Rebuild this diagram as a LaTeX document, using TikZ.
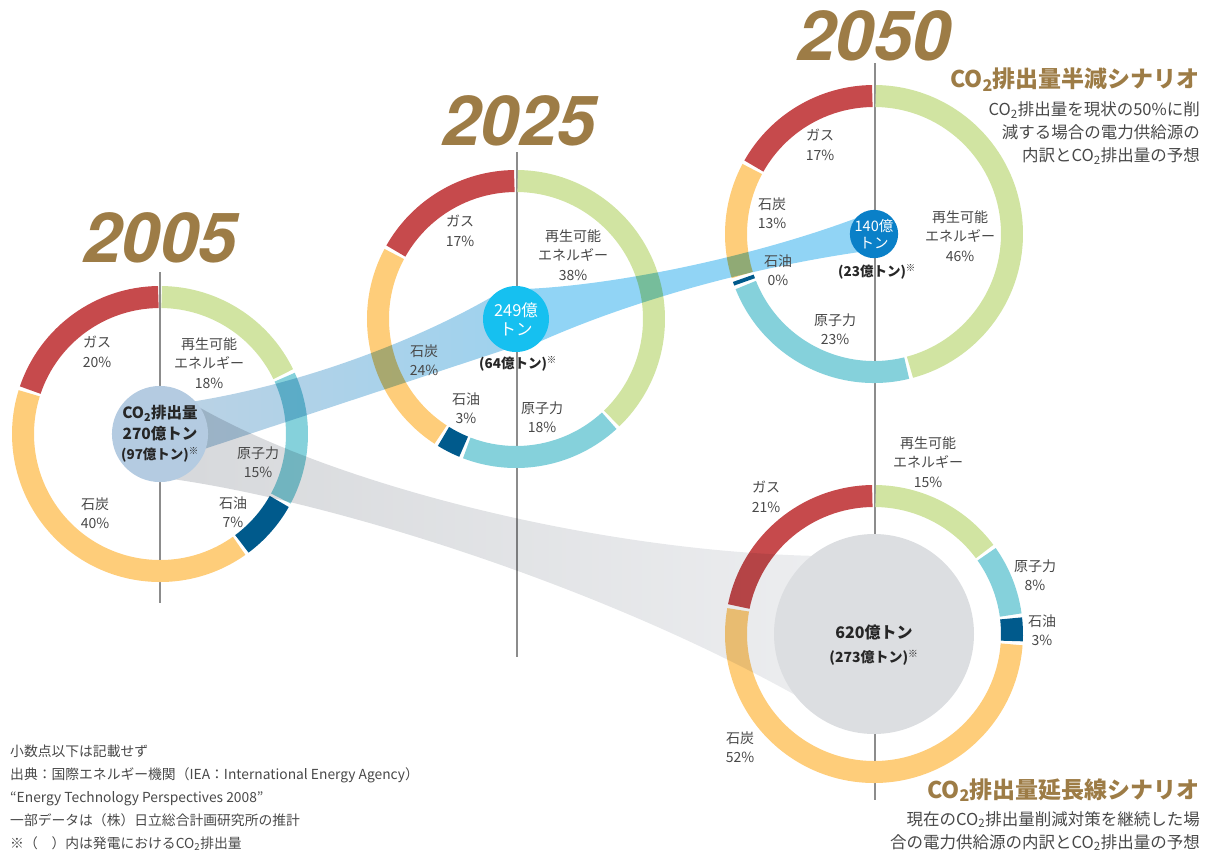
\documentclass[tikz,border=0pt]{standalone}
\usepackage{fontspec}
\setmainfont{Noto Sans CJK JP}
\newfontfamily\yearfont{TeX Gyre Heros}
\usetikzlibrary{calc}

\definecolor{gasred}{RGB}{198,74,76}
\definecolor{renewgreen}{RGB}{209,228,162}
\definecolor{nuclearcyan}{RGB}{133,209,219}
\definecolor{oilblue}{RGB}{0,90,140}
\definecolor{coalyellow}{RGB}{254,205,122}
\definecolor{gold}{RGB}{157,124,70}
\definecolor{labelgray}{RGB}{72,72,72}
\definecolor{linegray}{RGB}{140,140,140}
\definecolor{steel}{RGB}{180,203,225}
\definecolor{sky}{RGB}{22,192,240}
\definecolor{ocean}{RGB}{10,128,200}
\definecolor{mist}{RGB}{220,222,225}
\definecolor{bandblue}{RGB}{145,212,245}
\definecolor{bandsteel}{RGB}{188,210,228}
\definecolor{bandsky}{RGB}{158,210,238}
\definecolor{bandgray}{RGB}{214,216,219}
\definecolor{bandlight}{RGB}{238,239,241}

\newcommand{\cotwo}{CO\textsubscript{2}}

\begin{document}
\begin{tikzpicture}[
    x=1pt, y=1pt,
    year/.style={font=\yearfont\fontsize{69}{69}\selectfont\bfseries\itshape,
        text=gold, anchor=base, inner sep=0},
    yearline/.style={linegray, line width=1.1pt},
    ring/.style={line width=22pt},
    lbl/.style={font=\fontsize{14}{19.5}\selectfont, text=labelgray,
        align=center, inner sep=0},
    total/.style={font=\fontsize{13.5}{16}\selectfont\bfseries, text=black!85,
        align=center, inner sep=0},
    bubble/.style={circle, inner sep=0, align=center},
    scenario/.style={font=\fontsize{23}{26}\selectfont\bfseries, text=gold,
        anchor=east, inner sep=0},
    note/.style={font=\fontsize{16.5}{23}\selectfont, text=labelgray,
        align=right, anchor=east, inner sep=0}
    ]
    \useasboundingbox (0,0) rectangle (1210,-855);
    % centres
    \coordinate (c05) at (160,-434);
    \coordinate (c25) at (516,-319);
    \coordinate (c50) at (874,-234);
    \coordinate (c50b) at (874,-634);
    % years
    \draw[yearline] (160,-272) -- (160,-603);
    \draw[yearline] (517,-152) -- (517,-657);
    \draw[yearline] (875,-63) -- (875,-800);
    \node[year] (y05) at (160,-262) {2005};
    \node[year] (y25) at (519,-145) {2025};
    \node[year] (y50) at (874,-60) {2050};
    % rings
    \foreach \a/\b/\c in {90/25.2/renewgreen, 25.2/-28.8/nuclearcyan,
        -28.8/-54/oilblue, -54/-198/coalyellow, -198/-270/gasred}
        \draw[ring, \c, shift={(c05)}] (\a-0.7:137)
            arc[start angle=\a-0.7, end angle=\b+0.7, radius=137];
    \foreach \a/\b/\c in {90/-46.8/renewgreen, -46.8/-111.6/nuclearcyan,
        -111.6/-122.4/oilblue, -122.4/-208.8/coalyellow, -208.8/-270/gasred}
        \draw[ring, \c, shift={(c25)}] (\a-0.7:138)
            arc[start angle=\a-0.7, end angle=\b+0.7, radius=138];
    \foreach \a/\b/\c in {90/-75.6/renewgreen, -75.6/-159/nuclearcyan,
        -159/-162/oilblue, -162/-208.8/coalyellow, -208.8/-270/gasred}
        \draw[ring, \c, shift={(c50)}] (\a-0.7:138)
            arc[start angle=\a-0.7, end angle=\b+0.7, radius=138];
    \foreach \a/\b/\c in {90/36/renewgreen, 36/7.2/nuclearcyan,
        7.2/-3.6/oilblue, -3.6/-190.8/coalyellow, -190.8/-270/gasred}
        \draw[ring, \c, shift={(c50b)}] (\a-0.7:138)
            arc[start angle=\a-0.7, end angle=\b+0.7, radius=138];
    % bands
    \begin{scope}[blend mode=multiply]
    \shade[left color=bandgray, right color=bandlight] (c05) -- (190,-402)
        .. controls (330,-485) and (600,-552) .. (820,-556) -- (c50b)
        -- (830,-715) .. controls (620,-590) and (330,-500) .. (165,-478)
        -- cycle;
    \shade[left color=bandsteel, right color=bandsky] (c05) -- (190,-402)
        .. controls (300,-385) and (420,-340) .. (500,-292) -- (c25)
        -- (516,-346) -- (195,-452) -- cycle;
    \fill[bandblue] (c25) -- (525,-289)
        .. controls (620,-285) and (760,-255) .. (862,-216) -- (c50)
        -- (874,-250) .. controls (760,-265) and (630,-300) .. (530,-346)
        -- cycle;
    \end{scope}
    % totals
    \node[bubble, fill=steel, minimum size=88pt, total,
        font=\fontsize{15.5}{20.5}\selectfont\bfseries] (co05) at (c05)
        {\cotwo 排出量\\270億トン\\{\fontsize{13.5}{16}\selectfont(97億トン)\textsuperscript{※}}};
    \node[bubble, fill=sky, minimum size=66pt, text=white,
        font=\fontsize{16.5}{19}\selectfont] (co25) at (c25) {249億\\トン};
    \node[total] (n25) at (518,-364) {(64億トン)\textsuperscript{※}};
    \node[bubble, fill=ocean, minimum size=46pt, text=white,
        font=\fontsize{14.5}{16.5}\selectfont] (co50) at (c50) {140億\\トン};
    \node[total] (n50) at (877,-272) {(23億トン)\textsuperscript{※}};
    \node[bubble, fill=mist, minimum size=200pt] (co50b) at (c50b) {};
    \node[total, font=\fontsize{16}{24}\selectfont\bfseries] (n50b) at (874,-645)
        {620億トン\\{\fontsize{14}{16}\selectfont(273億トン)\textsuperscript{※}}};
    % 2005 labels
    \node[lbl] (gas05) at (97,-352) {ガス\\20\%};
    \node[lbl] (ren05) at (209,-363) {再生可能\\エネルギー\\18\%};
    \node[lbl] (nuc05) at (258,-462) {原子力\\15\%};
    \node[lbl] (oil05) at (233,-512) {石油\\7\%};
    \node[lbl] (coal05) at (95,-513) {石炭\\40\%};
    % 2025 labels
    \node[lbl] (gas25) at (460,-231) {ガス\\17\%};
    \node[lbl] (ren25) at (573,-255) {再生可能\\エネルギー\\38\%};
    \node[lbl] (coal25) at (424,-360) {石炭\\24\%};
    \node[lbl] (oil25) at (466,-408) {石油\\3\%};
    \node[lbl] (nuc25) at (542,-417) {原子力\\18\%};
    % 2050 half scenario labels
    \node[lbl] (gas50) at (820,-145) {ガス\\17\%};
    \node[lbl] (coal50) at (772,-213) {石炭\\13\%};
    \node[lbl] (oil50) at (778,-270) {石油\\0\%};
    \node[lbl] (nuc50) at (835,-329) {原子力\\23\%};
    \node[lbl] (ren50) at (960,-236) {再生可能\\エネルギー\\46\%};
    % 2050 trend scenario labels
    \node[lbl] (ren50b) at (928,-462) {再生可能\\エネルギー\\15\%};
    \node[lbl] (gas50b) at (766,-497) {ガス\\21\%};
    \node[lbl] (nuc50b) at (1035,-575) {原子力\\8\%};
    \node[lbl] (oil50b) at (1042,-630) {石油\\3\%};
    \node[lbl] (coal50b) at (740,-747) {石炭\\52\%};
    % scenarios
    \node[scenario] (half) at (1200,-80) {\cotwo 排出量半減シナリオ};
    \node[note] (halfnote) at (1200,-133)
        {\cotwo 排出量を現状の50\%に削\\減する場合の電力供給源の\\内訳と\cotwo 排出量の予想};
    \node[scenario] (trend) at (1200,-790) {\cotwo 排出量延長線シナリオ};
    \node[note] (trendnote) at (1200,-831)
        {現在の\cotwo 排出量削減対策を継続した場\\合の電力供給源の内訳と\cotwo 排出量の予想};
    % notes
    \node[lbl, align=left, anchor=west, font=\fontsize{13.8}{23}\selectfont] (src) at (10,-798)
        {小数点以下は記載せず\\出典：国際エネルギー機関（IEA：International Energy Agency）\\“Energy Technology Perspectives 2008”\\一部データは（株）日立総合計画研究所の推計\\※（　）内は発電における\cotwo 排出量};
\end{tikzpicture}
\end{document}
